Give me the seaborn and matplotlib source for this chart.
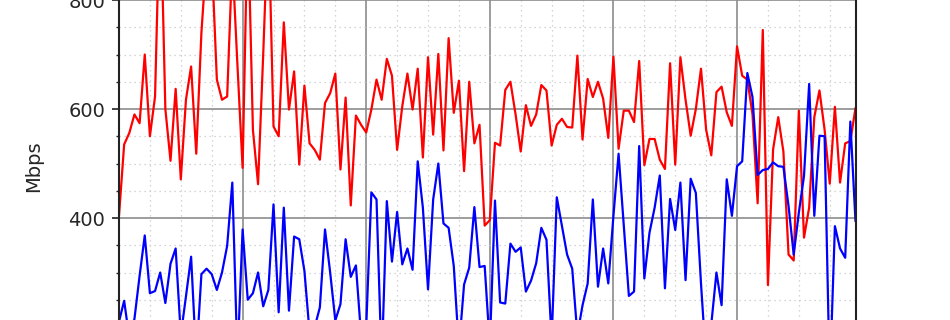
import matplotlib
matplotlib.use("Agg")
import numpy as np
import pandas as pd
import seaborn as sns
import matplotlib.pyplot as plt
from matplotlib.ticker import MultipleLocator, FuncFormatter

# ---- data (Mbps per sample) ----
download = [404, 535, 556, 590, 574, 700, 550, 623, 1000, 600,
            505, 637, 471, 617, 678, 518, 740, 880, 880, 654,
            617, 623, 875, 680, 492, 960, 562, 462, 700, 960,
            568, 550, 759, 599, 669, 498, 643, 537, 525, 507,
            611, 629, 665, 489, 621, 423, 588, 571, 557, 599,
            654, 617, 692, 661, 525, 605, 665, 599, 674, 511,
            695, 553, 701, 524, 730, 593, 652, 486, 650, 537,
            571, 386, 396, 538, 533, 635, 650, 590, 522, 607,
            569, 590, 644, 634, 533, 571, 582, 567, 566, 698,
            544, 655, 622, 650, 619, 547, 696, 527, 597, 597,
            576, 688, 497, 545, 545, 507, 490, 684, 498, 695,
            617, 551, 600, 674, 562, 515, 631, 641, 594, 569,
            715, 661, 654, 590, 427, 745, 277, 526, 585, 522,
            333, 322, 597, 364, 419, 585, 634, 562, 463, 604,
            465, 537, 541, 602]

upload = [210, 248, 180, 215, 294, 368, 262, 266, 300, 244,
          316, 344, 185, 256, 329, 140, 297, 307, 297, 268,
          300, 349, 465, 140, 379, 250, 262, 300, 238, 268,
          425, 227, 419, 230, 366, 361, 303, 190, 200, 236,
          379, 300, 212, 242, 361, 292, 313, 185, 200, 447,
          434, 130, 431, 320, 411, 315, 344, 305, 504, 419,
          269, 434, 500, 390, 382, 312, 160, 278, 309, 420,
          310, 312, 165, 432, 245, 243, 353, 338, 346, 265,
          285, 317, 382, 360, 175, 438, 385, 333, 307, 185,
          240, 280, 434, 274, 344, 280, 404, 518, 388, 257,
          265, 532, 289, 373, 419, 478, 271, 435, 378, 465,
          286, 472, 446, 280, 135, 205, 300, 240, 471, 404,
          495, 504, 666, 622, 479, 488, 490, 502, 495, 494,
          422, 333, 410, 477, 646, 404, 551, 550, 100, 385,
          344, 327, 577, 394]

sample = list(range(len(download)))
# y tick labels that fall inside the visible (cropped) window
shown_y_labels = [400, 600, 800]

df = pd.DataFrame({"sample": sample, "download": download, "upload": upload})

sns.set_style("white")
plt.rcParams["font.family"] = ["DejaVu Sans"]

fig = plt.figure(figsize=(9.5, 3.2), dpi=100)
# axes larger than the figure: the reference is a crop of a taller chart
ax = fig.add_axes([119 / 950, -0.3625, 736.5 / 950, 1.7031])

sns.lineplot(data=df, x="sample", y="download", color="#ff0000", linewidth=1.6, ax=ax)
sns.lineplot(data=df, x="sample", y="upload", color="#0000ff", linewidth=1.6, ax=ax)

ax.set_xlim(0, len(sample) - 1)
ax.set_ylim(0, 1000)

ax.xaxis.set_major_locator(MultipleLocator(24))
ax.xaxis.set_minor_locator(MultipleLocator(6))
ax.yaxis.set_major_locator(MultipleLocator(200))
ax.yaxis.set_minor_locator(MultipleLocator(50))
ax.yaxis.set_major_formatter(
    FuncFormatter(lambda v, p: f"{int(round(v))}" if int(round(v)) in shown_y_labels else ""))

ax.grid(which="major", color="#8c8c8c", linewidth=1.2, linestyle="-")
ax.grid(which="minor", color="#c8c8c8", linewidth=0.9, linestyle=(0, (1, 3)))
ax.set_axisbelow(True)

ax.tick_params(which="major", direction="out", length=5, width=1.2,
               labelsize=14, left=True, bottom=True, labelbottom=False,
               pad=5, color="#222222")
ax.tick_params(which="minor", direction="out", length=2.5, width=1.0,
               left=True, bottom=True, color="#222222")

for s in ax.spines.values():
    s.set_color("#222222")
    s.set_linewidth(1.5)

ax.set_xlabel("")
ax.set_ylabel("Mbps", fontsize=14)
ax.yaxis.set_label_coords(-0.1036, 0.4953)

fig.savefig("out.png", dpi=100)
